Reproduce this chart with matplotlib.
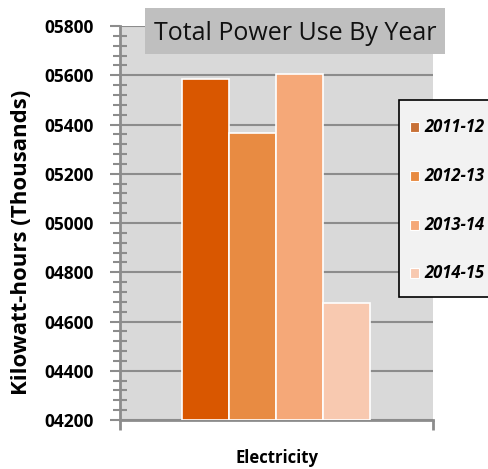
import matplotlib
matplotlib.use("Agg")
import matplotlib.pyplot as plt
from matplotlib.patches import Rectangle
from matplotlib.ticker import MultipleLocator, FuncFormatter

categories = ["Electricity"]
series_names = ["2011-12", "2012-13", "2013-14", "2014-15"]
values = [5585, 5367, 5605, 4675]
bar_colors = ["#D95700", "#E88B42", "#F5A878", "#F8C9B0"]
legend_colors = ["#C87137", "#E88B42", "#F5A878", "#F8C9B0"]
y_min, y_max = 4200, 5800

W, H = 488, 469
fig = plt.figure(figsize=(W / 100, H / 100), dpi=100)
fig.patch.set_facecolor("white")

ax = fig.add_axes([120 / W, 1 - 420 / H, (433 - 120) / W, (420 - 26) / H])
ax.set_facecolor("#D9D9D9")
ax.set_xlim(0, 1)
ax.set_ylim(y_min, y_max)

bar_w = 47 / 313
start = (182 - 120) / 313
for i, (v, c) in enumerate(zip(values, bar_colors)):
    ax.bar(start + i * bar_w, v - y_min, bottom=y_min, width=bar_w, align="edge",
           color=c, edgecolor="white", linewidth=1.2, zorder=3)

ax.yaxis.set_major_locator(MultipleLocator(200))
ax.yaxis.set_minor_locator(MultipleLocator(40))
ax.yaxis.set_major_formatter(FuncFormatter(lambda v, p: f"{int(round(v)):05d}"))
ax.grid(axis="y", which="major", color="#8C8C8C", linewidth=1.5, zorder=1)
ax.set_axisbelow(True)

for s in ["top", "right"]:
    ax.spines[s].set_visible(False)
for s in ["left", "bottom"]:
    ax.spines[s].set_color("#8C8C8C")
    ax.spines[s].set_linewidth(2)

ax.tick_params(axis="y", which="major", length=7, width=1.5, color="#8C8C8C",
               direction="out", pad=12)
ax.tick_params(axis="y", which="minor", length=10, width=1.5, color="#8C8C8C",
               direction="inout")
for lbl in ax.get_yticklabels():
    lbl.set_fontweight("bold")
    lbl.set_fontsize(12.5)
    lbl.set_family("Open Sans")

ax.set_xticks([0, 1])
ax.set_xticklabels(["", ""])
ax.tick_params(axis="x", length=7, width=2, color="#8C8C8C", direction="out")

fig.text(22 / W, 1 - 242 / H, "Kilowatt-hours (Thousands)", rotation=90,
         ha="center", va="center", fontsize=16, fontweight="bold",
         family="Open Sans")
fig.text(277 / W, 1 - 458 / H, categories[0], ha="center", va="center",
         fontsize=12, fontweight="bold", family="Open Sans")

# Title box
fig.patches.append(Rectangle((145 / W, 1 - 54 / H), (445 - 145) / W, 46 / H,
                             transform=fig.transFigure, facecolor="#BFBFBF",
                             edgecolor="none", zorder=5))
fig.text(295 / W, 1 - 33 / H, "Total Power Use By Year", ha="center", va="center",
         fontsize=18, family="Open Sans", color="#111111", zorder=6)

# Legend
fig.patches.append(Rectangle((399 / W, 1 - 297 / H), 120 / W, 197 / H,
                             transform=fig.transFigure, facecolor="#F2F2F2",
                             edgecolor="black", linewidth=1.2, zorder=5))
ys = [127, 176, 225, 273]
for name, c, y in zip(series_names, legend_colors, ys):
    fig.patches.append(Rectangle((410 / W, 1 - (y + 5) / H), 9 / W, 10 / H,
                                 transform=fig.transFigure, facecolor=c,
                                 edgecolor="white", linewidth=0.8, zorder=6))
    fig.text(424 / W, 1 - y / H, name, ha="left", va="center", fontsize=12,
             fontweight="bold", fontstyle="italic", family="Open Sans", zorder=6)

fig.savefig("out.png", dpi=100)
